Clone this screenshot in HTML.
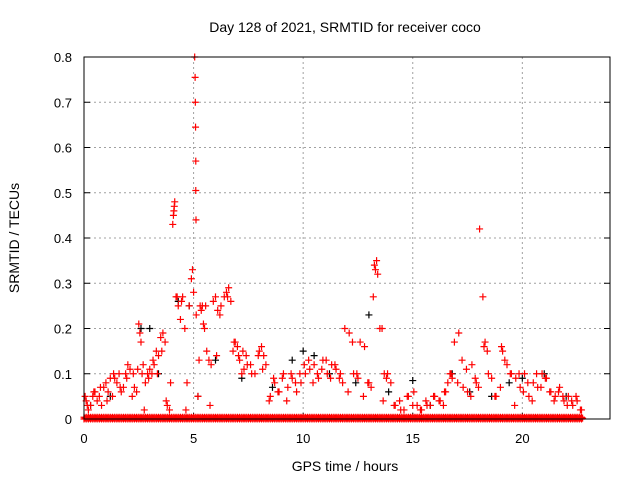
<!DOCTYPE html>
<html><head><meta charset="utf-8"><style>
body{margin:0;background:#fff}
svg{display:block;font-family:"Liberation Sans",sans-serif}
</style></head><body>
<svg id="chart" width="640" height="480" viewBox="0 0 640 480" xmlns="http://www.w3.org/2000/svg">
<rect width="640" height="480" fill="#fff"/>
<text x="345" y="32" font-size="14" text-anchor="middle">Day 128 of 2021, SRMTID for receiver coco</text>
<text x="345" y="471" font-size="14" text-anchor="middle">GPS time / hours</text>
<text transform="translate(19,238) rotate(-90)" font-size="14" text-anchor="middle">SRMTID / TECUs</text>
<g id="grid"></g>
<g id="axes"></g>
<g id="black"></g>
<g id="red"></g>
<rect x="84" y="57" width="526" height="362" fill="none" stroke="#000" stroke-width="1"/>
</svg>
<script>
const xTicks=[0,5,10,15,20];
const yTicks=[0,0.1,0.2,0.3,0.4,0.5,0.6,0.7,0.8];
const yTickLabels=["0","0.1","0.2","0.3","0.4","0.5","0.6","0.7","0.8"];
const zeroTimes=[0,0.1,0.2,0.3,0.4,0.5,0.6,0.7,0.8,0.9,1,1.1,1.2,1.3,1.4,1.5,1.6,1.7,1.8,1.9,2,2.1,2.2,2.3,2.4,2.5,2.6,2.7,2.8,2.9,3,3.1,3.2,3.3,3.4,3.5,3.6,3.7,3.8,3.9,4,4.1,4.2,4.3,4.4,4.5,4.6,4.7,4.8,4.9,5,5.1,5.2,5.3,5.4,5.5,5.6,5.7,5.8,5.9,6,6.1,6.2,6.3,6.4,6.5,6.6,6.7,6.8,6.9,7,7.1,7.2,7.3,7.4,7.5,7.6,7.7,7.8,7.9,8,8.1,8.2,8.3,8.4,8.5,8.6,8.7,8.8,8.9,9,9.1,9.2,9.3,9.4,9.5,9.6,9.7,9.8,9.9,10,10.1,10.2,10.3,10.4,10.5,10.6,10.7,10.8,10.9,11,11.1,11.2,11.3,11.4,11.5,11.6,11.7,11.8,11.9,12,12.1,12.2,12.3,12.4,12.5,12.6,12.7,12.8,12.9,13,13.1,13.2,13.3,13.4,13.5,13.6,13.7,13.8,13.9,14,14.1,14.2,14.3,14.4,14.5,14.6,14.7,14.8,14.9,15,15.1,15.2,15.3,15.4,15.5,15.6,15.7,15.8,15.9,16,16.1,16.2,16.3,16.4,16.5,16.6,16.7,16.8,16.9,17,17.1,17.2,17.3,17.4,17.5,17.6,17.7,17.8,17.9,18,18.1,18.2,18.3,18.4,18.5,18.6,18.7,18.8,18.9,19,19.1,19.2,19.3,19.4,19.5,19.6,19.7,19.8,19.9,20,20.1,20.2,20.3,20.4,20.5,20.6,20.7,20.8,20.9,21,21.1,21.2,21.3,21.4,21.5,21.6,21.7,21.8,21.9,22,22.1,22.2,22.3,22.4,22.5,22.6,22.7];
const redTimes=[0.05,0.1,0.15,0.3,0.4,0.5,0.6,0.7,0.8,0.9,1.0,1.1,1.2,1.3,1.4,1.5,1.6,1.7,1.8,1.9,2.0,2.1,2.2,2.3,2.4,2.5,2.55,2.6,2.65,2.7,2.8,2.9,3.0,3.1,3.2,3.3,3.4,3.5,3.6,3.7,3.8,3.9,4.05,4.08,4.1,4.12,4.14,4.2,4.3,4.4,4.5,4.6,4.7,4.8,4.9,4.95,5.0,5.05,5.07,5.08,5.09,5.1,5.1,5.11,5.12,5.2,5.3,5.35,5.4,5.45,5.5,5.6,5.7,5.8,5.9,6.0,6.1,6.2,6.4,6.5,6.6,6.7,6.8,6.9,7.0,7.1,7.2,7.3,7.4,7.6,7.8,8.0,8.1,8.2,8.3,8.5,8.7,8.9,9.1,9.3,9.5,9.7,9.9,10.1,10.3,10.5,10.7,10.9,11.1,11.3,11.5,11.7,11.8,11.9,12.1,12.3,12.5,12.6,12.8,13.0,13.1,13.2,13.25,13.3,13.4,13.5,13.6,13.7,13.8,14.0,14.2,14.4,14.6,14.8,15.0,15.2,15.4,15.6,15.8,16.0,16.2,16.4,16.5,16.6,16.7,16.8,16.9,17.1,17.3,17.5,17.7,17.9,18.0,18.05,18.2,18.3,18.4,18.6,18.8,19.0,19.1,19.2,19.3,19.5,19.7,19.9,20.1,20.3,20.5,20.7,20.9,21.1,21.3,21.5,21.7,21.9,22.1,22.3,22.5,22.7];
const redValues=[0.05,0.04,0.03,0.03,0.05,0.06,0.04,0.05,0.03,0.07,0.08,0.06,0.09,0.05,0.09,0.08,0.1,0.06,0.07,0.1,0.12,0.11,0.05,0.07,0.06,0.21,0.19,0.17,0.1,0.12,0.08,0.1,0.11,0.1,0.12,0.15,0.14,0.18,0.19,0.17,0.03,0.02,0.43,0.45,0.46,0.47,0.48,0.27,0.25,0.22,0.27,0.2,0.08,0.25,0.31,0.33,0.28,0.8,0.755,0.7,0.645,0.57,0.505,0.44,0.23,0.05,0.25,0.24,0.25,0.21,0.2,0.15,0.13,0.12,0.26,0.27,0.24,0.23,0.27,0.28,0.29,0.26,0.15,0.17,0.16,0.13,0.1,0.11,0.14,0.12,0.1,0.15,0.16,0.14,0.12,0.05,0.08,0.06,0.1,0.07,0.09,0.06,0.08,0.1,0.11,0.12,0.09,0.13,0.1,0.12,0.11,0.1,0.08,0.2,0.19,0.1,0.09,0.17,0.16,0.08,0.07,0.27,0.34,0.33,0.32,0.2,0.2,0.1,0.09,0.08,0.03,0.04,0.02,0.05,0.03,0.03,0.02,0.04,0.03,0.05,0.04,0.03,0.06,0.08,0.1,0.09,0.17,0.19,0.07,0.06,0.12,0.08,0.07,0.42,0.27,0.17,0.15,0.09,0.05,0.07,0.15,0.13,0.12,0.1,0.09,0.07,0.1,0.05,0.08,0.07,0.1,0.09,0.06,0.05,0.07,0.04,0.05,0.03,0.04,0.02];
const redTimes2=[0.2,0.45,0.75,1.05,1.35,1.65,1.95,2.25,2.45,2.75,2.95,3.15,3.35,3.55,3.75,3.95,4.25,4.45,4.65,5.25,5.55,5.75,6.05,6.25,6.55,6.85,7.05,7.25,7.45,7.65,7.95,8.15,8.45,8.65,8.85,9.05,9.25,9.45,9.65,9.85,10.05,10.25,10.45,10.65,10.85,11.05,11.25,11.45,11.65,12.05,12.25,12.45,12.75,12.95,13.35,13.65,13.85,14.15,14.45,14.75,15.05,15.35,15.65,15.95,16.25,16.45,16.75,17.05,17.25,17.45,17.65,17.85,18.25,18.45,18.75,19.05,19.45,19.65,19.85,20.05,20.25,20.45,20.65,20.85,21.05,21.25,21.45,21.65,21.85,22.05,22.25,22.45,22.65];
const redValues2=[0.02,0.06,0.07,0.04,0.1,0.07,0.09,0.1,0.11,0.02,0.09,0.13,0.1,0.15,0.04,0.08,0.27,0.26,0.02,0.13,0.25,0.03,0.14,0.25,0.27,0.17,0.14,0.15,0.12,0.1,0.14,0.11,0.04,0.09,0.06,0.09,0.04,0.1,0.08,0.1,0.12,0.13,0.08,0.1,0.11,0.13,0.09,0.12,0.09,0.06,0.17,0.1,0.05,0.08,0.35,0.04,0.1,0.03,0.02,0.05,0.06,0.02,0.03,0.05,0.04,0.06,0.1,0.08,0.13,0.11,0.05,0.09,0.16,0.1,0.05,0.16,0.1,0.03,0.1,0.06,0.08,0.04,0.1,0.07,0.09,0.06,0.04,0.06,0.05,0.03,0.04,0.05,0.02];
const blackTimes=[0.3,1.2,2.6,3.0,3.4,4.3,4.8,5.2,6.0,7.2,8.6,9.5,10.0,10.5,11.2,12.4,13.0,13.9,15.0,15.8,16.8,17.6,18.6,19.4,20.0,21.0,22.0];
const blackValues=[0.03,0.05,0.2,0.2,0.1,0.26,0.25,0.05,0.13,0.09,0.07,0.13,0.15,0.14,0.1,0.08,0.23,0.06,0.085,0.03,0.1,0.06,0.05,0.08,0.09,0.1,0.05];
const X=t=>84+t*(526/24);
const Y=v=>419-v*452.5;
const NS="http://www.w3.org/2000/svg";
function mk(tag,attrs,parent){const e=document.createElementNS(NS,tag);for(const k in attrs)e.setAttribute(k,attrs[k]);parent.appendChild(e);return e;}
const grid=document.getElementById('grid'),axes=document.getElementById('axes');
xTicks.forEach((t,i)=>{
  if(t>0){const g=mk('line',{x1:X(t),x2:X(t),y1:57,y2:419,stroke:'#a0a0a0','stroke-dasharray':'2,3'},grid);
  
  }
  const tk=mk('line',{x1:X(t),x2:X(t),y1:419,y2:413,stroke:'#000'},axes);
  
  
  const lb=mk('text',{x:X(t),y:443,'font-size':13,'text-anchor':'middle'},axes);lb.textContent=String(t);
  
  
});
yTicks.forEach((v,i)=>{
  if(v>0&&v<0.8){const g=mk('line',{x1:84,x2:610,y1:Y(v),y2:Y(v),stroke:'#a0a0a0','stroke-dasharray':'2,3'},grid);
  
  }
  const tk=mk('line',{x1:84,x2:90,y1:Y(v),y2:Y(v),stroke:'#000'},axes);
  
  
  const tk2=mk('line',{x1:604,x2:610,y1:Y(v),y2:Y(v),stroke:'#000'},axes);
  
  
  const lb=mk('text',{x:72,y:Y(v)+5,'font-size':13,'text-anchor':'end'},axes);lb.textContent=yTickLabels[i];
  
  
});
function plus(g,t,v,c){
  const x=X(t),y=Y(v);
  const p=mk('path',{d:`M${x-3.5} ${y}H${x+3.5}M${x} ${y-3.5}V${y+3.5}`,stroke:c,'stroke-width':1.2,fill:'none'},g);
  
  
}
const bg=document.getElementById('black'),rg=document.getElementById('red');
blackTimes.forEach((t,i)=>plus(bg,t,blackValues[i],'#000'));
zeroTimes.forEach(t=>{plus(rg,t,0,'#f00');plus(rg,t,0.004,'#f00');plus(rg,t+0.05,0.002,'#f00');});
redTimes.forEach((t,i)=>plus(rg,t,redValues[i],'#f00'));
redTimes2.forEach((t,i)=>plus(rg,t,redValues2[i],'#f00'));
</script>
</body></html>
